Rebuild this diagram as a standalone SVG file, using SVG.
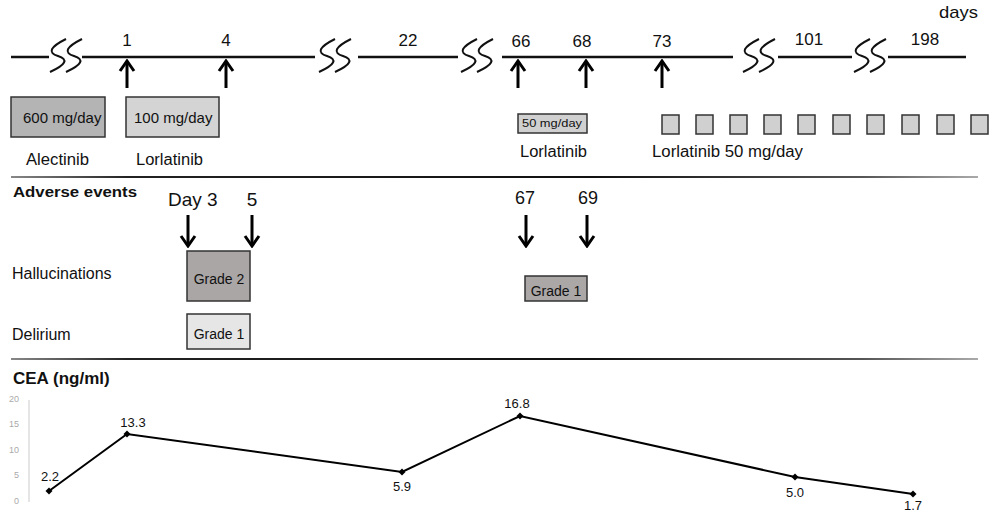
<svg xmlns="http://www.w3.org/2000/svg" xmlns:xlink="http://www.w3.org/1999/xlink" width="992" height="515" viewBox="0 0 992 515">
<style>
text{font-family:"Liberation Sans",Arial,sans-serif;fill:#111}
.num{font-size:17px;text-anchor:middle}
.lbl{font-size:16px}
.box{stroke:#333;stroke-width:1.5}
.tl{stroke:#111;stroke-width:2.5;fill:none}
.brk{stroke:#111;stroke-width:2;fill:none}
.arr{stroke:#000;stroke-width:3;fill:none;marker-end:url(#chev)}
.sep{stroke:url(#sepg);stroke-width:2}
.grade{font-size:14px;text-anchor:middle}
.val{font-size:13px;text-anchor:middle}
.tick{font-size:9px;fill:#aaa;text-anchor:end}
</style>
<defs>
<marker id="chev" viewBox="-2 -9 14 18" refX="10" refY="0" markerWidth="14" markerHeight="18" markerUnits="userSpaceOnUse" orient="auto">
<path d="M0,-7 L10,0 L0,7" fill="none" stroke="#000" stroke-width="3"/>
</marker>
<linearGradient id="sepg" gradientUnits="userSpaceOnUse" x1="11" y1="0" x2="978" y2="0">
<stop offset="0" stop-color="#888"/>
<stop offset="0.12" stop-color="#222"/>
<stop offset="0.6" stop-color="#111"/>
<stop offset="0.88" stop-color="#555"/>
<stop offset="1" stop-color="#aaa"/>
</linearGradient>
<path id="s" class="brk" d="M17,39 Q-7,51 9,56 Q25,61 1,72"/>
<g id="brkpair"><use href="#s"/><use href="#s" x="16"/></g>
</defs>
<rect width="992" height="515" fill="#fff"/>

<g id="timeline">
<path class="tl" d="M11,57H49M82,57H315M358,57H458M502,57H733M778,57H852M888,57H966"/>
<use href="#brkpair" x="49"/>
<use href="#brkpair" x="318"/>
<use href="#brkpair" x="460"/>
<use href="#brkpair" x="742"/>
<use href="#brkpair" x="853"/>
<text class="num" x="127" y="46">1</text>
<text class="num" x="226" y="46">4</text>
<text class="num" x="408" y="46">22</text>
<text class="num" x="521" y="47">66</text>
<text class="num" x="582" y="47">68</text>
<text class="num" x="662" y="47">73</text>
<text class="num" x="809" y="45">101</text>
<text class="num" x="925" y="45">198</text>
<text x="939" y="18" font-size="17" textLength="39" lengthAdjust="spacingAndGlyphs">days</text>
</g>

<g id="alectinib">
<rect class="box" x="11" y="97" width="94" height="40" fill="#b4b4b4"/>
<text x="23" y="123" font-size="15">600 mg/day</text>
<text x="26" y="165" class="lbl" textLength="63" lengthAdjust="spacingAndGlyphs">Alectinib</text>
</g>
<g id="lorlatinib100">
<rect class="box" x="126" y="97" width="93" height="40" fill="#d4d4d4"/>
<text x="134" y="123" font-size="15">100 mg/day</text>
<text x="136" y="165" class="lbl" textLength="67" lengthAdjust="spacingAndGlyphs">Lorlatinib</text>
</g>
<g id="lorlatinib50">
<rect class="box" x="518" y="114" width="69" height="19" fill="#d0d0d0"/>
<text x="522" y="127" font-size="10.5" textLength="60" lengthAdjust="spacingAndGlyphs">50 mg/day</text>
<text x="520" y="157" class="lbl" textLength="67" lengthAdjust="spacingAndGlyphs">Lorlatinib</text>
</g>
<g id="lorlatinib50cont" fill="#d0d0d0">
<rect class="box" x="662" y="115" width="17" height="19"/>
<rect class="box" x="696" y="115" width="17" height="19"/>
<rect class="box" x="730" y="115" width="17" height="19"/>
<rect class="box" x="764" y="115" width="17" height="19"/>
<rect class="box" x="798" y="115" width="17" height="19"/>
<rect class="box" x="833" y="115" width="17" height="19"/>
<rect class="box" x="867" y="115" width="17" height="19"/>
<rect class="box" x="902" y="115" width="17" height="19"/>
<rect class="box" x="937" y="115" width="17" height="19"/>
<rect class="box" x="971" y="115" width="17" height="19"/>
<text x="652" y="157" class="lbl" textLength="151" lengthAdjust="spacingAndGlyphs">Lorlatinib 50 mg/day</text>
</g>

<line class="sep" x1="11" y1="177" x2="978" y2="177"/>

<g id="adverse">
<text x="13" y="197" font-size="14" font-weight="bold" textLength="124" lengthAdjust="spacingAndGlyphs">Adverse events</text>
<text x="168" y="206" font-size="19">Day 3</text>
<text x="252" y="206" font-size="19" text-anchor="middle">5</text>
<text x="525" y="204" font-size="18" text-anchor="middle">67</text>
<text x="588" y="204" font-size="18" text-anchor="middle">69</text>
<text x="12" y="279" class="lbl">Hallucinations</text>
<text x="12" y="340" class="lbl">Delirium</text>
</g>
<g id="halluc2">
<rect class="box" x="187" y="251" width="63" height="50" fill="#aaa6a5"/>
<text class="grade" x="219" y="284">Grade 2</text>
</g>
<g id="delirium1">
<rect class="box" x="187" y="314" width="63" height="35" fill="#e6e6e6"/>
<text class="grade" x="219" y="339">Grade 1</text>
</g>
<g id="halluc1">
<rect class="box" x="525" y="276" width="62" height="25" fill="#aba7a7"/>
<text class="grade" x="556" y="296">Grade 1</text>
</g>

<g id="connectors">
<path class="arr" d="M127,88V61"/>
<path class="arr" d="M226,88V61"/>
<path class="arr" d="M518,88V61"/>
<path class="arr" d="M586,88V61"/>
<path class="arr" d="M662,88V61"/>
<path class="arr" d="M188,215V246"/>
<path class="arr" d="M252,215V246"/>
<path class="arr" d="M526,215V246"/>
<path class="arr" d="M587,215V246"/>
</g>

<line class="sep" x1="11" y1="359" x2="978" y2="359"/>

<g id="cea">
<text x="13" y="384" font-size="17" font-weight="bold">CEA (ng/ml)</text>
<line x1="29" y1="400" x2="29" y2="502" stroke="#ddd" stroke-width="1.5"/>
<text class="tick" x="19" y="402">20</text>
<text class="tick" x="19" y="427">15</text>
<text class="tick" x="19" y="453">10</text>
<text class="tick" x="19" y="478">5</text>
<text class="tick" x="19" y="504">0</text>
<polyline points="49,491 127,434 402,472 520,416 795,477 913,494" fill="none" stroke="#000" stroke-width="2"/>
<g fill="#000">
<path d="M49,487.5l3.5,3.5l-3.5,3.5l-3.5,-3.5z"/>
<path d="M127,430.5l3.5,3.5l-3.5,3.5l-3.5,-3.5z"/>
<path d="M402,468.5l3.5,3.5l-3.5,3.5l-3.5,-3.5z"/>
<path d="M520,412.5l3.5,3.5l-3.5,3.5l-3.5,-3.5z"/>
<path d="M795,473.5l3.5,3.5l-3.5,3.5l-3.5,-3.5z"/>
<path d="M913,490.5l3.5,3.5l-3.5,3.5l-3.5,-3.5z"/>
</g>
<text class="val" x="50" y="481">2.2</text>
<text class="val" x="133" y="427">13.3</text>
<text class="val" x="402" y="491">5.9</text>
<text class="val" x="517" y="408">16.8</text>
<text class="val" x="795" y="497">5.0</text>
<text class="val" x="913" y="510">1.7</text>
</g>
</svg>
